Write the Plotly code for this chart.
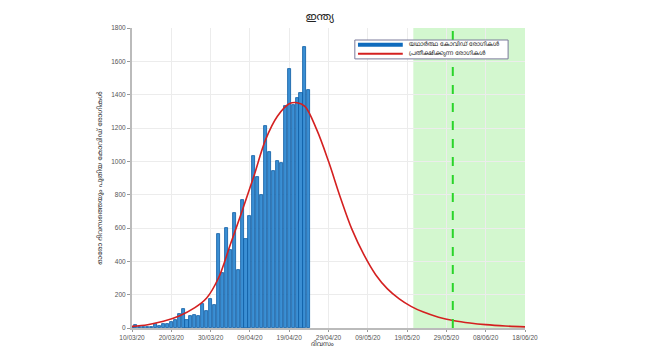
import pandas as pd
import plotly.graph_objects as go

# Daily new confirmed COVID-19 cases in India, 10/03/2020 onwards
case_dates = pd.date_range("2020-03-10", periods=46, freq="D")
daily_cases = [5, 18, 6, 8, 6, 4, 24, 10, 26, 26,
               34, 50, 86, 114, 50, 70, 80, 70, 144, 100,
               174, 140, 566, 330, 598, 470, 690, 350, 770, 536,
               674, 1034, 906, 796, 1210, 1054, 940, 1004, 990, 1334,
               1554, 1340, 1380, 1410, 1686, 1426]

# Projected daily cases (fitted curve), sampled at these day offsets
curve_days = [0, 4, 8, 12, 16, 19, 22, 25, 28, 31, 34, 37, 40, 42, 44, 47, 50,
              53, 56, 59, 62, 65, 68, 71, 74, 78, 82, 86, 90, 95, 100]
curve_values = [10, 20, 40, 72, 122, 180, 300, 500, 700, 910, 1130, 1270, 1345,
                1352, 1330, 1190, 1000, 785, 590, 440, 320, 235, 175, 130, 97,
                65, 44, 30, 20, 12, 7]
curve_dates = [pd.Timestamp("2020-03-10") + pd.Timedelta(days=d) for d in curve_days]

tick_dates = pd.date_range("2020-03-10", "2020-06-18", freq="10D")
tick_text = [d.strftime("%d/%m/%y") for d in tick_dates]

forecast_start = "2020-05-20 14:00"
forecast_end = "2020-06-18"
marker_date = "2020-05-30 15:00"

title_text = "ഇന്ത്യ"
x_title = "ദിവസം"
y_title = "ഓരോ ദിവസത്തെയും പുതിയ കോവിഡ് രോഗികൾ"
actual_name = "യഥാർത്ഥ കോവിഡ് രോഗികൾ"
expected_name = "പ്രതീക്ഷിക്കുന്ന രോഗികൾ"

FONT = "Noto Sans Malayalam, Noto Sans, DejaVu Sans, sans-serif"
TICK_FONT = "Liberation Sans, Arial, sans-serif"
day_ms = 86400000

fig = go.Figure()

fig.add_vrect(x0=forecast_start, x1=forecast_end, fillcolor="#d3f7cf",
              line_width=0, layer="below")
fig.add_vline(x=marker_date, line=dict(color="#2ad42a", width=2, dash="dash"))

fig.add_trace(go.Bar(
    x=case_dates, y=daily_cases, width=0.78 * day_ms,
    marker=dict(color="#3b8fd4", line=dict(color="#0a5aa3", width=0.8)),
    name=actual_name, showlegend=False,
))
fig.add_trace(go.Scatter(
    x=curve_dates, y=curve_values, mode="lines", name=expected_name,
    line=dict(color="#d42020", width=1.6, shape="spline", smoothing=1.0),
    showlegend=False,
))

# Compact legend box (drawn in paper coordinates)
box_x0, box_x1, box_y0, box_y1 = 0.567, 0.957, 0.897, 0.960
fig.add_shape(type="rect", xref="paper", yref="paper",
              x0=box_x0, x1=box_x1, y0=box_y0, y1=box_y1,
              fillcolor="white", line=dict(color="#7a7a9a", width=1), layer="above")
legend_rows = [(actual_name, "#0f6bbd", 4, 0.944), (expected_name, "#d42020", 2, 0.914)]
for label, color, lw, yy in legend_rows:
    fig.add_shape(type="line", xref="paper", yref="paper",
                  x0=box_x0 + 0.008, x1=box_x0 + 0.122, y0=yy, y1=yy,
                  line=dict(color=color, width=lw), layer="above")
    fig.add_annotation(xref="paper", yref="paper", x=box_x0 + 0.132, y=yy,
                       xanchor="left", yanchor="middle", text=label, showarrow=False,
                       font=dict(family=FONT, size=6, color="#222"))

# x-axis title placed just under the tick labels
fig.add_annotation(xref="paper", yref="paper", x=0.485, y=-0.053,
                   xanchor="center", yanchor="middle", text=x_title, showarrow=False,
                   font=dict(family=FONT, size=6.5, color="#333"))

fig.update_layout(
    width=650, height=350,
    margin=dict(l=132, r=125, t=28, b=22, autoexpand=False),
    paper_bgcolor="white", plot_bgcolor="white",
    font=dict(family=FONT, size=7, color="#555"),
    title=dict(text=title_text, x=0.492, xanchor="center", y=0.955, yanchor="middle",
               font=dict(family=FONT, size=11, color="#222")),
    bargap=0,
    showlegend=False,
)
fig.update_xaxes(
    range=["2020-03-10", "2020-06-18"],
    tickvals=tick_dates, ticktext=tick_text,
    showgrid=True, gridcolor="#ececec", gridwidth=1,
    showline=True, linecolor="#bbbbbb", linewidth=1.5,
    ticks="outside", ticklen=2, tickcolor="#999",
    tickfont=dict(family=TICK_FONT, size=6.5, color="#555"),
    zeroline=False, automargin=False,
)
fig.update_yaxes(
    range=[0, 1800], dtick=200,
    showgrid=True, gridcolor="#ececec", gridwidth=1,
    showline=True, linecolor="#bbbbbb", linewidth=2,
    ticks="outside", ticklen=3, tickcolor="#999",
    tickfont=dict(family=TICK_FONT, size=6.5, color="#555"),
    title=dict(text=y_title, font=dict(family=FONT, size=7, color="#333"), standoff=8),
    zeroline=False, automargin=False,
)

fig.write_html("out.html")
